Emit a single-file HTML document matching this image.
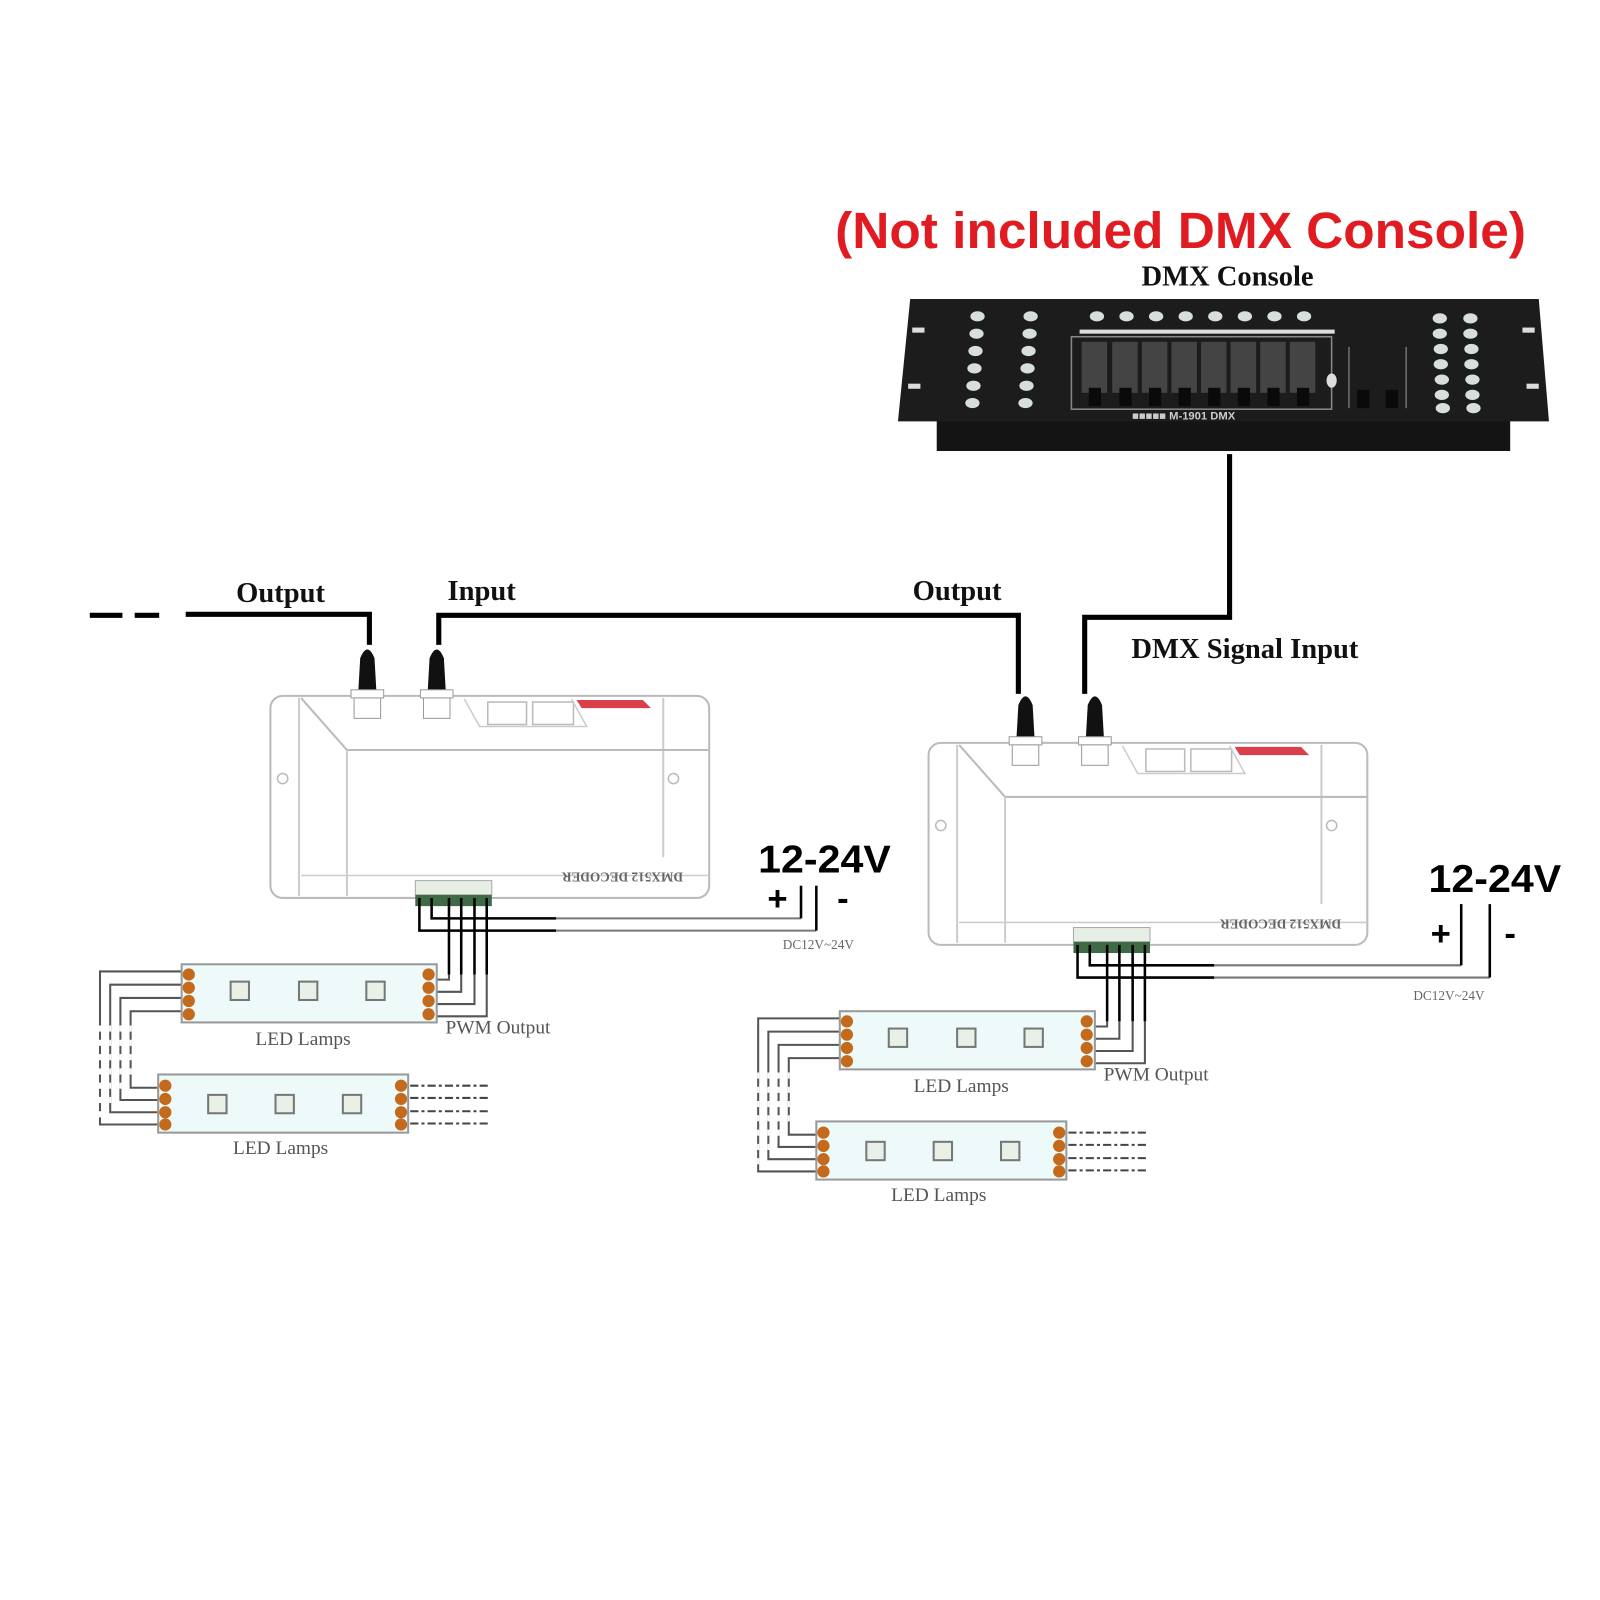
<!DOCTYPE html>
<html><head><meta charset="utf-8"><style>
html,body{margin:0;padding:0;background:#fff;width:1600px;height:1600px;overflow:hidden}
svg{display:block}
.lbl{font-family:"Liberation Serif",serif;font-weight:bold;font-size:28px;fill:#111}
.sm{font-family:"Liberation Serif",serif;font-size:19px;fill:#555}
.tiny{font-family:"Liberation Serif",serif;font-size:13px;fill:#666}
.v{font-family:"Liberation Sans",sans-serif;font-weight:bold;fill:#000}
</style></head><body>
<svg width="1600" height="1600" viewBox="0 0 1600 1600" xmlns="http://www.w3.org/2000/svg">
<defs>
<g id="unit">
  <rect x="265" y="682" width="430" height="198" rx="12" fill="#fff" stroke="#bbb" stroke-width="2"/>
  <line x1="293" y1="684" x2="293" y2="878" stroke="#ccc" stroke-width="2"/>
  <line x1="650" y1="684" x2="650" y2="840" stroke="#ccc" stroke-width="2"/>
  <path d="M295 684 L340 735 L695 735" fill="none" stroke="#bbb" stroke-width="2"/>
  <line x1="340" y1="735" x2="340" y2="878" stroke="#ccc" stroke-width="2"/>
  <line x1="295" y1="858" x2="695" y2="858" stroke="#ccc" stroke-width="1.5"/>
  <circle cx="277" cy="763" r="5" fill="none" stroke="#bbb" stroke-width="1.5"/>
  <circle cx="660" cy="763" r="5" fill="none" stroke="#bbb" stroke-width="1.5"/>
  <rect x="478" y="688" width="38" height="22" fill="none" stroke="#bbb" stroke-width="1.5"/>
  <rect x="522" y="688" width="40" height="22" fill="none" stroke="#bbb" stroke-width="1.5"/>
  <path d="M455 685 L470 712 L575 712 L560 685" fill="none" stroke="#ccc" stroke-width="1.5"/>
  <polygon points="565,686 630,686 638,694 570,694" fill="#d9404a"/>
  <text x="610" y="863" class="tiny" text-anchor="middle" transform="rotate(180 610 859)" font-weight="bold" fill="#555">DMX512 DECODER</text>
  <path d="M351 680 L353 645 Q360 628 367 645 L369 680 Z" fill="#111"/>
  <rect x="344" y="676" width="32" height="8" fill="#fff" stroke="#999"/>
  <rect x="347" y="684" width="26" height="20" fill="#fff" stroke="#999"/>
  <path d="M419 680 L421 645 Q428 628 435 645 L437 680 Z" fill="#111"/>
  <rect x="412" y="676" width="32" height="8" fill="#fff" stroke="#999"/>
  <rect x="415" y="684" width="26" height="20" fill="#fff" stroke="#999"/>
  <rect x="407" y="863" width="75" height="14" fill="#e6eee6" stroke="#aaa"/>
  <rect x="407" y="877" width="75" height="11" fill="#3f6a45"/>
  <g stroke="#000" stroke-width="2.5" fill="none">
    <path d="M411 880 V912 H545"/>
    <path d="M423 880 V900 H545"/>
    <path d="M440 880 V955"/><path d="M452 880 V955"/><path d="M465 880 V955"/><path d="M477 880 V955"/>
  </g>
  <g stroke="#555" stroke-width="2" fill="none">
    <path d="M440 955 V960 H425"/><path d="M452 955 V972 H425"/><path d="M465 955 V984 H425"/><path d="M477 955 V996 H425"/>
    <path d="M182 952 H98 V1102 H158"/><path d="M182 965 H108 V1090 H158"/><path d="M182 978 H118 V1078 H158"/><path d="M182 991 H128 V1066 H158"/>
  </g>
  <g stroke="#fff" stroke-width="2" stroke-dasharray="6 8">
    <line x1="98" y1="1005" x2="98" y2="1095"/><line x1="108" y1="1005" x2="108" y2="1085"/><line x1="118" y1="1005" x2="118" y2="1070"/><line x1="128" y1="1005" x2="128" y2="1060"/>
  </g>
  <rect x="178" y="945" width="250" height="57" fill="#eefafa" stroke="#999" stroke-width="2"/>
  <g fill="#c46a1c"><circle cx="185" cy="955" r="6"/><circle cx="185" cy="968" r="6"/><circle cx="185" cy="981" r="6"/><circle cx="185" cy="994" r="6"/>
  <circle cx="420" cy="955" r="6"/><circle cx="420" cy="968" r="6"/><circle cx="420" cy="981" r="6"/><circle cx="420" cy="994" r="6"/></g>
  <g fill="#e8f0e8" stroke="#777" stroke-width="2"><rect x="226" y="962" width="18" height="18"/><rect x="293" y="962" width="18" height="18"/><rect x="359" y="962" width="18" height="18"/></g>
  <rect x="155" y="1053" width="245" height="57" fill="#eefafa" stroke="#999" stroke-width="2"/>
  <g fill="#c46a1c"><circle cx="162" cy="1064" r="6"/><circle cx="162" cy="1077" r="6"/><circle cx="162" cy="1090" r="6"/><circle cx="162" cy="1102" r="6"/>
  <circle cx="393" cy="1064" r="6"/><circle cx="393" cy="1077" r="6"/><circle cx="393" cy="1090" r="6"/><circle cx="393" cy="1102" r="6"/></g>
  <g fill="#e8f0e8" stroke="#777" stroke-width="2"><rect x="204" y="1073" width="18" height="18"/><rect x="270" y="1073" width="18" height="18"/><rect x="336" y="1073" width="18" height="18"/></g>
  <g stroke="#444" stroke-width="2" stroke-dasharray="8 3 3 3"><line x1="402" y1="1064" x2="478" y2="1064"/><line x1="402" y1="1076" x2="478" y2="1076"/><line x1="402" y1="1089" x2="478" y2="1089"/><line x1="402" y1="1101" x2="478" y2="1101"/></g>
  <text x="297" y="1024" class="sm" text-anchor="middle">LED Lamps</text>
  <text x="275" y="1131" class="sm" text-anchor="middle">LED Lamps</text>
  <text x="488" y="1013" class="sm" text-anchor="middle">PWM Output</text>
</g>
</defs>

<g transform="scale(1.0204)">
<use href="#unit"/>
<use href="#unit" transform="translate(645,46)"/>

<g stroke="#777" stroke-width="2" fill="none"><path d="M545 900 H785"/><path d="M545 912 H800"/></g>
<g stroke="#000" stroke-width="2.5"><line x1="785" y1="868" x2="785" y2="900"/><line x1="800" y1="868" x2="800" y2="912"/></g>
<text x="808" y="855" class="v" font-size="38" text-anchor="middle" textLength="130" lengthAdjust="spacingAndGlyphs">12-24V</text>
<text x="762" y="892" class="v" font-size="34" text-anchor="middle">+</text>
<text x="826" y="892" class="v" font-size="34" text-anchor="middle">-</text>
<text x="802" y="930" class="tiny" text-anchor="middle">DC12V~24V</text>
<g stroke="#777" stroke-width="2" fill="none"><path d="M1190 946 H1432"/><path d="M1190 958 H1460"/></g>
<g stroke="#000" stroke-width="2.5"><line x1="1432" y1="886" x2="1432" y2="946"/><line x1="1460" y1="886" x2="1460" y2="958"/></g>
<text x="1465" y="874" class="v" font-size="38" text-anchor="middle" textLength="130" lengthAdjust="spacingAndGlyphs">12-24V</text>
<text x="1412" y="926" class="v" font-size="34" text-anchor="middle">+</text>
<text x="1480" y="926" class="v" font-size="34" text-anchor="middle">-</text>
<text x="1420" y="980" class="tiny" text-anchor="middle">DC12V~24V</text>

<g stroke="#000" stroke-width="5" fill="none">
  <line x1="88" y1="603" x2="120" y2="603"/><line x1="132" y1="603" x2="156" y2="603"/>
  <path d="M182 602 H362 V632"/>
  <path d="M430 632 V603 H998 V680"/>
  <path d="M1205 445 V605 H1063 V680"/>
</g>
<text x="275" y="590" class="lbl" text-anchor="middle">Output</text>
<text x="472" y="588" class="lbl" text-anchor="middle">Input</text>
<text x="938" y="588" class="lbl" text-anchor="middle">Output</text>
<text x="1220" y="645" class="lbl" text-anchor="middle">DMX Signal Input</text>
<text x="1203" y="280" class="lbl" text-anchor="middle">DMX Console</text>
<text x="1157" y="243" font-family="'Liberation Sans',sans-serif" font-weight="bold" font-size="50" fill="#e01b22" text-anchor="middle" textLength="677" lengthAdjust="spacingAndGlyphs">(Not included DMX Console)</text>

<rect x="918" y="410" width="562" height="32" fill="#141414"/>
<polygon points="892,293 1508,293 1518,413 880,413" fill="#1c1c1c"/>
<g fill="#ddd"><rect x="894" y="321" width="12" height="5"/><rect x="890" y="376" width="12" height="5"/><rect x="1492" y="321" width="12" height="5"/><rect x="1496" y="376" width="12" height="5"/></g>
<g fill="#d8dede">
  <ellipse cx="958" cy="310" rx="7" ry="5"/><ellipse cx="957" cy="327" rx="7" ry="5"/><ellipse cx="956" cy="344" rx="7" ry="5"/><ellipse cx="955" cy="361" rx="7" ry="5"/><ellipse cx="954" cy="378" rx="7" ry="5"/><ellipse cx="953" cy="395" rx="7" ry="5"/>
  <ellipse cx="1010" cy="310" rx="7" ry="5"/><ellipse cx="1009" cy="327" rx="7" ry="5"/><ellipse cx="1008" cy="344" rx="7" ry="5"/><ellipse cx="1007" cy="361" rx="7" ry="5"/><ellipse cx="1006" cy="378" rx="7" ry="5"/><ellipse cx="1005" cy="395" rx="7" ry="5"/>
  <ellipse cx="1075" cy="310" rx="7" ry="5"/><ellipse cx="1104" cy="310" rx="7" ry="5"/><ellipse cx="1133" cy="310" rx="7" ry="5"/><ellipse cx="1162" cy="310" rx="7" ry="5"/><ellipse cx="1191" cy="310" rx="7" ry="5"/><ellipse cx="1220" cy="310" rx="7" ry="5"/><ellipse cx="1249" cy="310" rx="7" ry="5"/><ellipse cx="1278" cy="310" rx="7" ry="5"/>
  <ellipse cx="1411" cy="312" rx="7" ry="5"/><ellipse cx="1411" cy="327" rx="7" ry="5"/><ellipse cx="1412" cy="342" rx="7" ry="5"/><ellipse cx="1412" cy="357" rx="7" ry="5"/><ellipse cx="1413" cy="372" rx="7" ry="5"/><ellipse cx="1413" cy="387" rx="7" ry="5"/><ellipse cx="1414" cy="400" rx="7" ry="5"/>
  <ellipse cx="1441" cy="312" rx="7" ry="5"/><ellipse cx="1441" cy="327" rx="7" ry="5"/><ellipse cx="1442" cy="342" rx="7" ry="5"/><ellipse cx="1442" cy="357" rx="7" ry="5"/><ellipse cx="1443" cy="372" rx="7" ry="5"/><ellipse cx="1443" cy="387" rx="7" ry="5"/><ellipse cx="1444" cy="400" rx="7" ry="5"/>
</g>
<rect x="1050" y="330" width="255" height="71" fill="none" stroke="#888" stroke-width="1.5"/>
<rect x="1058" y="323" width="250" height="4" fill="#ddd"/>
<g fill="#444">
  <rect x="1060" y="335" width="25" height="50"/><rect x="1090" y="335" width="25" height="50"/><rect x="1119" y="335" width="25" height="50"/><rect x="1148" y="335" width="25" height="50"/><rect x="1177" y="335" width="25" height="50"/><rect x="1206" y="335" width="25" height="50"/><rect x="1235" y="335" width="25" height="50"/><rect x="1264" y="335" width="25" height="50"/>
</g>
<g fill="#0a0a0a">
  <rect x="1067" y="380" width="12" height="18"/><rect x="1097" y="380" width="12" height="18"/><rect x="1126" y="380" width="12" height="18"/><rect x="1155" y="380" width="12" height="18"/><rect x="1184" y="380" width="12" height="18"/><rect x="1213" y="380" width="12" height="18"/><rect x="1242" y="380" width="12" height="18"/><rect x="1271" y="380" width="12" height="18"/>
  <rect x="1330" y="382" width="12" height="18"/><rect x="1358" y="382" width="12" height="18"/>
</g>
<ellipse cx="1305" cy="373" rx="5" ry="7" fill="#ddd"/>
<line x1="1322" y1="340" x2="1322" y2="400" stroke="#999"/><line x1="1378" y1="340" x2="1378" y2="400" stroke="#999"/>
<text x="1160" y="411" font-family="Liberation Sans,sans-serif" font-weight="bold" font-size="11" fill="#ccc" text-anchor="middle">■■■■■ M-1901  DMX</text>
</g>
</svg>
</body></html>
